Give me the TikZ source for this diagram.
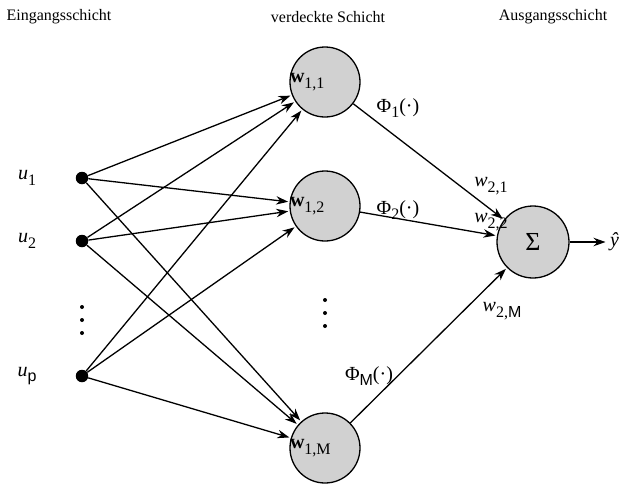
\documentclass[tikz,border=0pt]{standalone}
\usepackage{fontspec}
\setmainfont{Liberation Serif}
\setsansfont{Liberation Sans}
\usetikzlibrary{arrows.meta}
% subscript set at four fifths of the label size, slightly lowered
\newcommand{\sub}[1]{\raisebox{-0.28em}{\fontsize{16}{16}\selectfont #1}}
\tikzset{
  every node/.style={font=\fontsize{16}{18}\selectfont},
  lbl/.style={font=\fontsize{20}{22}\selectfont},
  inputdot/.style={circle,fill=black,inner sep=0pt,minimum size=12.5pt},
  neuron/.style={circle,draw=black,line width=1.3pt,fill=black!18,inner sep=0pt,minimum size=70pt},
  conn/.style={line width=1.3pt,shorten >=1.5pt,-{Stealth[length=12pt,width=8.5pt]}},
  smalldot/.style={circle,fill=black,inner sep=0pt,minimum size=4pt},
}
\begin{document}
\begin{tikzpicture}[x=1pt,y=-1pt]
\useasboundingbox (0,0) rectangle (637,485);
% layer headings
\node (hIn)  at (59,17)  {Eingangsschicht};
\node (hHid) at (328,17) {verdeckte Schicht};
\node (hOut) at (553,17) {Ausgangsschicht};
% inputs
\node[inputdot] (in1) at (82,178) {};
\node[inputdot] (in2) at (82,241) {};
\node[inputdot] (inp) at (82,376) {};
\node[lbl] (lu1) at (27,178) {\textit{u}\sub{1}};
\node[lbl] (lu2) at (27,241) {\textit{u}\sub{2}};
\node[lbl] (lup) at (27,376) {\textit{u}\sub{\sffamily p}};
\node[smalldot] (di1) at (82,307) {};
\node[smalldot] (di2) at (82,320) {};
\node[smalldot] (di3) at (82,333) {};
% hidden neurons
\node[neuron] (h1) at (325,82) {};
\node[neuron] (h2) at (325,206) {};
\node[neuron] (hM) at (325,448) {};
\node[lbl,anchor=west,inner sep=0pt] (lh1) at ([xshift=0.5pt]h1.west) {\textbf{w}\sub{1,1}};
\node[lbl,anchor=west,inner sep=0pt] (lh2) at ([xshift=0.5pt]h2.west) {\textbf{w}\sub{1,2}};
\node[lbl,anchor=west,inner sep=0pt] (lhM) at ([xshift=0.5pt]hM.west) {\textbf{w}\sub{1,M}};
\node[smalldot] (dh1) at (325,300) {};
\node[smalldot] (dh2) at (325,313) {};
\node[smalldot] (dh3) at (325,326) {};
% output neuron
\node[neuron,minimum size=72pt] (out) at (533,242) {\fontsize{26}{28}\selectfont Σ};
\coordinate (yend) at (607,242);
\node[lbl,anchor=west,inner sep=3pt] (ly) at (yend) {\textit{ŷ}};
% input -> hidden
\foreach \i in {in1,in2,inp}{
  \foreach \h in {h1,h2,hM}{
    \draw[conn] (\i) -- (\h);
  }
}
% hidden -> output
\draw[conn] (h1) -- (out);
\draw[conn] (h2) -- (out);
\draw[conn] (hM) -- (out);
\draw[conn] (out) -- (yend);
% activation and weight labels
\node[lbl] (p1) at (398,108) {Φ\sub{1}(·)};
\node[lbl] (p2) at (398,210) {Φ\sub{2}(·)};
\node[lbl] (pM) at (369,376) {Φ\sub{\sffamily M}(·)};
\node[lbl] (w21) at (491,186) {\textit{w}\sub{2,1}};
\node[lbl] (w22) at (491,222) {\textit{w}\sub{2,2}};
\node[lbl] (w2M) at (502,311) {\textit{w}\sub{2,\sffamily M}};
\end{tikzpicture}
\end{document}
